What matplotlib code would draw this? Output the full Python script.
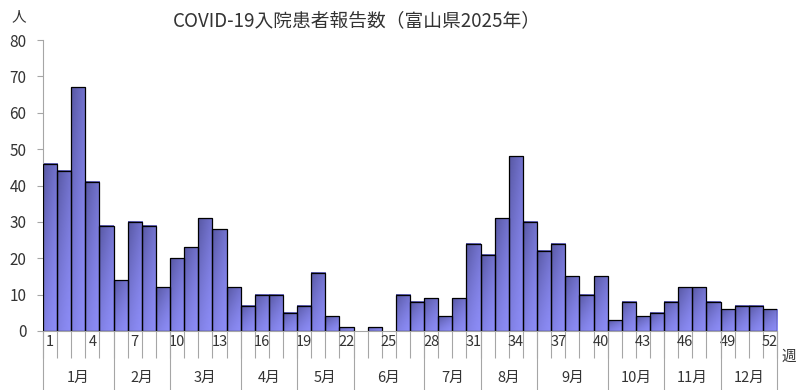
import matplotlib.pyplot as plt
import numpy as np
from matplotlib.colors import LinearSegmentedColormap
from matplotlib.patches import Rectangle

plt.rcParams["font.family"] = ["Noto Sans CJK JP", "DejaVu Sans"]

TITLE = "COVID-19入院患者報告数（富山県2025年）"
weeks = np.arange(1, 53)
cases = [46, 44, 67, 41, 29, 14, 30, 29, 12, 20, 23, 31, 28, 12, 7, 10, 10, 5, 7, 16,
         4, 1, 0, 1, 0, 10, 8, 9, 4, 9, 24, 21, 31, 48, 30, 22, 24, 15, 10, 15,
         3, 8, 4, 5, 8, 12, 12, 8, 6, 7, 7, 6]
week_labels = list(range(1, 53, 3))
months = ["1月", "2月", "3月", "4月", "5月", "6月", "7月", "8月", "9月", "10月", "11月", "12月"]
month_first_week = [1, 6, 10, 15, 19, 23, 28, 32, 36, 41, 45, 49, 53]

GRAY = "#a6a6a6"
TEXT = "#333333"
cmap = LinearSegmentedColormap.from_list("bar", ["#8c8cf6", "#5757a2"])


def main() -> None:
    fig = plt.figure(figsize=(8, 3.9), dpi=100)
    ax = fig.add_axes([0.05375, 0.1513, 0.9175, 0.7461])

    # gradient: dark at the top-left corner, fading to light towards bottom/right
    n = 64
    u = np.linspace(0, 1, n)
    dark = (0.6 * u[:, None] + 0.4 * (1 - u[None, :])) ** 1.5

    for w, c in zip(weeks, cases):
        if c <= 0:
            continue
        ax.imshow(dark, extent=[w - 0.5, w + 0.5, 0, c], origin="lower",
                  aspect="auto", cmap=cmap, vmin=0, vmax=1, zorder=2,
                  interpolation="bilinear")
        ax.add_patch(Rectangle((w - 0.5, 0), 1, c, fill=False, ec="black",
                               lw=0.9, zorder=3))

    ax.set_xlim(0.5, 52.5)
    ax.set_ylim(0, 80)

    for s in ["top", "right"]:
        ax.spines[s].set_visible(False)
    ax.spines["left"].set_color(GRAY)
    ax.spines["bottom"].set_color(GRAY)
    ax.spines["bottom"].set_zorder(4)

    ax.set_yticks(range(0, 81, 10))
    ax.tick_params(axis="y", colors=GRAY, labelcolor=TEXT, labelsize=11,
                   length=4, direction="out", pad=8)

    # week boundary ticks + week labels
    ax.set_xticks(np.arange(0.5, 53, 1))
    ax.set_xticklabels([])
    ax.tick_params(axis="x", which="major", colors=GRAY, length=19.5, width=0.8)
    ax.set_xticks(week_labels, minor=True)
    ax.set_xticklabels([str(w) for w in week_labels], minor=True)
    ax.tick_params(axis="x", which="minor", length=0, pad=3, labelsize=10.5,
                   labelcolor=TEXT)

    # month row
    trans = ax.get_xaxis_transform()
    for b in month_first_week:
        ax.plot([b - 0.5, b - 0.5], [0, -0.205], color=GRAY, lw=0.8,
                transform=trans, clip_on=False)
    for m, a, b in zip(months, month_first_week[:-1], month_first_week[1:]):
        ax.text((a + b - 1) / 2, -0.162, m, transform=trans, ha="center",
                va="center", fontsize=10.5, color=TEXT)

    fig.text(0.015, 0.955, "人", fontsize=10.5, color=TEXT, va="center")
    fig.text(0.977, 0.085, "週", fontsize=10.5, color=TEXT, va="center")
    fig.text(0.446, 0.948, TITLE, fontsize=13.5, color=TEXT,
             ha="center", va="center")

    fig.savefig("out.png", dpi=100)


if __name__ == "__main__":
    main()
